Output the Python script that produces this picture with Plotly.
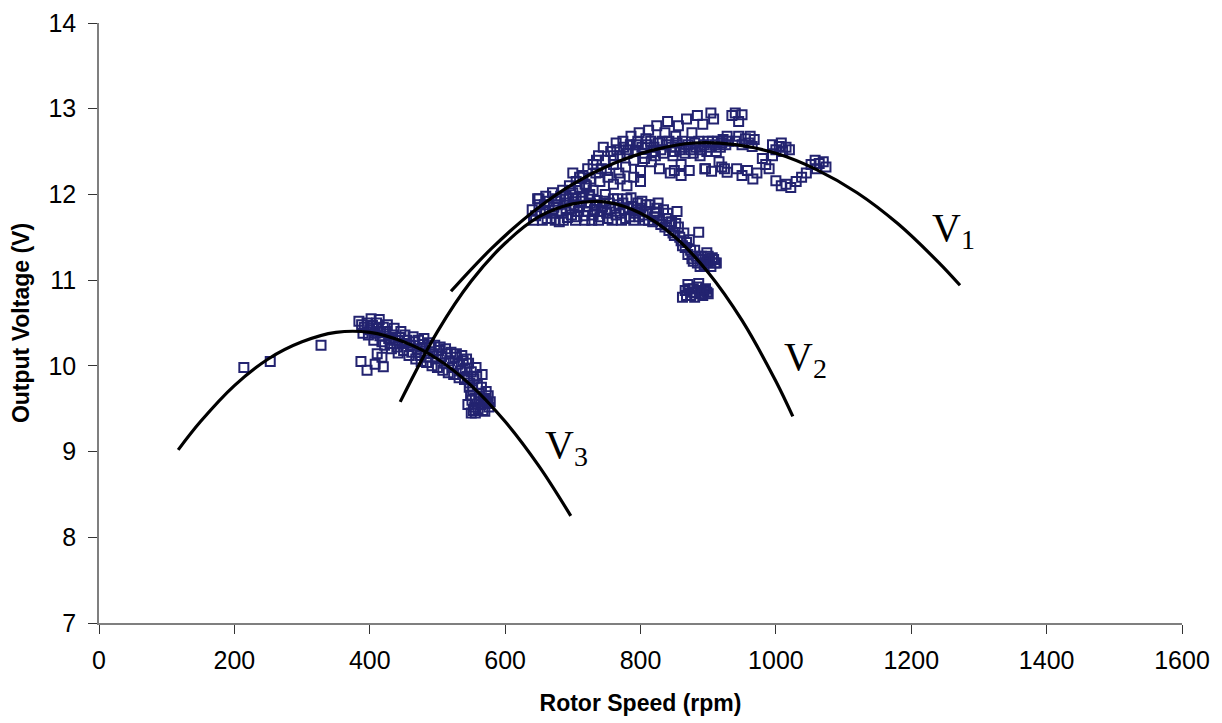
import plotly.graph_objects as go

# ---------------- data (rpm, V) ----------------
# Measured points, low-speed cluster
speed_low = [214, 253, 328, 387, 396, 411, 418, 420, 408,
             388, 392, 396, 400, 404, 408, 410, 412, 415, 418, 420, 424, 428, 430, 434, 438,
             440, 444, 448, 450, 455, 460, 462, 466, 470, 474, 478, 482, 486, 490, 494, 498,
             502, 506, 510, 514, 518, 522, 526, 530, 534, 538, 541, 544, 546, 548, 550, 552,
             554, 556, 557, 559, 560, 562, 564, 566, 568, 570, 572, 574, 576, 553, 545, 549,
             384, 390, 398, 402, 406, 414, 416, 422, 426, 432, 436, 442, 446, 452, 458, 464,
             468, 472, 476, 480, 484, 488, 492, 496, 500, 504, 508, 512, 516, 520, 524, 528,
             532, 536, 540, 543, 547, 551, 555, 558, 561, 565, 567, 571, 575, 578, 550, 556]
volt_low = [9.98, 10.05, 10.24, 10.05, 9.95, 10.14, 10.10, 9.99, 10.02,
            10.48, 10.45, 10.50, 10.42, 10.47, 10.38, 10.50, 10.44, 10.35, 10.28, 10.45, 10.40, 10.32, 10.26, 10.36, 10.30,
            10.22, 10.33, 10.26, 10.18, 10.30, 10.24, 10.16, 10.28, 10.20, 10.12, 10.25, 10.17, 10.10, 10.22, 10.14, 10.08,
            10.18, 10.11, 10.03, 10.14, 10.06, 9.98, 10.10, 10.02, 9.94, 10.06, 9.97, 9.88, 10.03, 9.80, 9.93, 9.72,
            9.85, 9.62, 9.98, 9.78, 9.50, 9.68, 9.55, 9.90, 9.60, 9.47, 9.70, 9.56, 9.52, 9.48, 9.55, 9.66,
            10.52, 10.38, 10.36, 10.55, 10.30, 10.54, 10.40, 10.24, 10.48, 10.20, 10.44, 10.15, 10.40, 10.36, 10.12, 10.34,
            10.08, 10.30, 10.05, 10.32, 10.04, 10.27, 10.00, 10.24, 9.98, 10.22, 9.95, 10.20, 9.92, 10.16, 9.90, 10.14,
            9.86, 10.12, 9.84, 10.08, 9.75, 9.60, 9.52, 9.88, 9.58, 9.75, 9.48, 9.62, 9.65, 9.58, 9.45, 9.45]

# Measured points, middle cluster
speed_mid = [640, 645, 650, 655, 660, 665, 668, 672, 676, 680, 684, 688, 692, 696, 700, 704, 708, 712,
             716, 720, 724, 728, 732, 736, 740, 744, 748, 752, 756, 760, 764, 768, 772, 776, 780, 784,
             788, 792, 796, 800, 804, 808, 812, 818, 822, 826, 830, 834, 838, 842, 846, 850, 854, 856,
             860, 864, 866, 870, 872, 876, 880, 884, 886, 890, 894, 898, 902, 906, 910,
             862, 866, 870, 874, 878, 882, 886, 890, 894, 898,
             642, 648, 652, 658, 662, 670, 674, 678, 682, 686, 690, 694, 698, 702, 706, 710, 714, 718,
             722, 726, 730, 734, 738, 742, 746, 750, 754, 758, 762, 766, 770, 774, 778, 782, 786, 790,
             794, 798, 802, 806, 810, 814, 820, 824, 828, 836, 840, 844, 848, 852, 858, 862, 868, 874,
             878, 882, 888, 892, 896, 900, 904, 908, 912, 868, 872, 876, 880, 884, 888, 892, 896, 900]
volt_mid = [11.82, 11.75, 11.88, 11.70, 11.80, 11.92, 11.72, 11.85, 11.95, 11.68, 11.78, 11.90, 11.73, 11.84, 11.96, 11.70, 11.80, 11.92,
            11.75, 11.86, 11.98, 11.70, 11.82, 11.93, 11.74, 11.86, 12.00, 11.72, 11.83, 11.95, 11.76, 11.88, 11.70, 11.82, 11.95, 11.74,
            11.86, 11.78, 11.90, 11.84, 11.76, 11.88, 11.70, 11.68, 11.78, 11.90, 11.65, 11.82, 11.72, 11.58, 11.68, 11.52, 11.80, 11.62,
            11.46, 11.55, 11.38, 11.30, 11.47, 11.25, 11.35, 11.20, 11.56, 11.28, 11.18, 11.32, 11.22, 11.26, 11.20,
            10.80, 10.88, 10.95, 10.82, 10.90, 10.85, 10.96, 10.84, 10.88, 10.86,
            11.70, 11.95, 11.78, 11.88, 11.72, 11.78, 11.70, 11.88, 11.98, 11.70, 11.82, 11.95, 11.76, 11.88, 11.74, 11.86, 11.96, 11.70,
            11.80, 11.90, 11.76, 11.88, 11.70, 11.80, 11.92, 11.78, 11.90, 11.70, 11.84, 11.95, 11.78, 11.90, 11.72, 11.84, 11.96, 11.70,
            11.82, 11.74, 11.92, 11.70, 11.80, 11.88, 11.74, 11.84, 11.70, 11.62, 11.78, 11.64, 11.55, 11.66, 11.50, 11.40, 11.44, 11.35,
            11.22, 11.28, 11.16, 11.24, 11.20, 11.28, 11.16, 11.24, 11.20, 10.82, 10.90, 10.86, 10.80, 10.92, 10.88, 10.82, 10.90, 10.84]

# Measured points, high-speed cluster
speed_high = [650, 660, 670, 675, 685, 690, 695, 700, 705, 710, 715, 718, 722, 726, 730, 734, 738, 742, 745, 748,
              752, 756, 760, 764, 768, 770, 774, 778, 782, 786, 790, 794, 798, 800, 804, 808, 812, 816, 820, 824,
              828, 832, 836, 840, 844, 848, 852, 856, 860, 864, 868, 872, 876, 880, 884, 888, 892, 896, 900, 904,
              908, 912, 916, 920, 924, 928, 935, 940, 945, 950,
              940, 945, 950, 955, 960, 965, 968, 962, 942, 950, 958, 966, 972,
              980, 985, 990, 995, 995, 1000, 1005, 1010, 1015, 1020, 1008,
              1000, 1008, 1015, 1022, 1030, 1038, 1045, 1052, 1058, 1064, 1070, 1074, 1060,
              850, 860, 895, 905, 920, 928,
              760, 765, 775, 780, 785, 792, 796, 802, 806, 810, 815, 818, 822, 826, 830, 834, 838, 842,
              846, 850, 854, 858, 862, 866, 870, 874, 878, 882, 886, 890, 894, 898, 902, 906, 910, 914,
              918, 922, 926, 930, 700, 710, 720, 730, 740, 750, 735, 725, 715, 705, 760, 770, 780, 790, 800]
volt_high = [11.95, 11.98, 12.02, 11.92, 12.05, 11.98, 12.10, 12.02, 12.15, 12.08, 12.22, 12.12, 12.30, 12.18, 12.35, 12.25, 12.45, 12.30, 12.55, 12.40,
             12.20, 12.50, 12.35, 12.60, 12.25, 12.45, 12.62, 12.32, 12.52, 12.68, 12.40, 12.58, 12.72, 12.28, 12.48, 12.65, 12.75, 12.38, 12.55, 12.80,
             12.30, 12.62, 12.72, 12.85, 12.25, 12.45, 12.68, 12.80, 12.35, 12.55, 12.88, 12.28, 12.72, 12.60, 12.92, 12.45, 12.82, 12.30, 12.62, 12.95,
             12.88, 12.50, 12.38, 12.60, 12.30, 12.68, 12.92, 12.95, 12.85, 12.93,
             12.62, 12.68, 12.58, 12.65, 12.60, 12.56, 12.64, 12.68, 12.30, 12.22, 12.28, 12.18, 12.25,
             12.42, 12.35, 12.30, 12.45, 12.58, 12.52, 12.56, 12.50, 12.55, 12.52, 12.60,
             12.16, 12.10, 12.12, 12.08, 12.15, 12.20, 12.25, 12.35, 12.40, 12.36, 12.38, 12.32, 12.30,
             12.28, 12.22, 12.30, 12.27, 12.32, 12.26,
             12.45, 12.52, 12.55, 12.48, 12.58, 12.50, 12.62, 12.55, 12.42, 12.58, 12.62, 12.50, 12.45, 12.60, 12.52, 12.48, 12.58, 12.62,
             12.55, 12.50, 12.60, 12.52, 12.62, 12.48, 12.58, 12.52, 12.48, 12.55, 12.62, 12.52, 12.58, 12.50, 12.55, 12.62, 12.58, 12.62,
             12.55, 12.64, 12.58, 12.62, 12.25, 12.20, 12.10, 12.05, 12.15, 12.28, 12.40, 12.00, 11.98, 11.95, 12.12, 12.18, 12.10, 12.20, 12.15]

# Fitted curves
v1_speed = [520, 580, 640, 700, 760, 820, 880, 940, 1000, 1060, 1120, 1180, 1240, 1272]
v1_volt = [10.87, 11.37, 11.79, 12.12, 12.36, 12.52, 12.60, 12.58, 12.48, 12.29, 12.02, 11.66, 11.21, 10.94]
v2_speed = [445, 500, 550, 600, 650, 700, 750, 800, 850, 900, 950, 1000, 1025]
v2_volt = [9.58, 10.40, 10.99, 11.43, 11.74, 11.89, 11.91, 11.78, 11.51, 11.09, 10.53, 9.82, 9.41]
v3_speed = [117, 150, 200, 250, 300, 350, 400, 450, 500, 550, 600, 650, 697]
v3_volt = [9.02, 9.35, 9.77, 10.08, 10.28, 10.39, 10.39, 10.28, 10.08, 9.77, 9.35, 8.83, 8.25]

curve_labels = ["V<sub>1</sub>", "V<sub>2</sub>", "V<sub>3</sub>"]
label_speed = [1228, 1009, 656]
label_volt = [11.58, 10.08, 9.05]

x_ticks = [0, 200, 400, 600, 800, 1000, 1200, 1400, 1600]
y_ticks = [7, 8, 9, 10, 11, 12, 13, 14]

# ---------------- figure ----------------
marker_color = "#232370"
fig = go.Figure()

for xs, ys in [(speed_low, volt_low), (speed_mid, volt_mid), (speed_high, volt_high)]:
    fig.add_trace(go.Scatter(
        x=xs, y=ys, mode="markers",
        marker=dict(symbol="square-open", size=9, color=marker_color,
                    line=dict(width=2, color=marker_color)),
        showlegend=False, hoverinfo="x+y"))

for xs, ys in [(v1_speed, v1_volt), (v2_speed, v2_volt), (v3_speed, v3_volt)]:
    fig.add_trace(go.Scatter(
        x=xs, y=ys, mode="lines",
        line=dict(color="black", width=3.2, shape="spline", smoothing=1.0),
        showlegend=False))

for txt, lx, ly in zip(curve_labels, label_speed, label_volt):
    fig.add_annotation(x=lx, y=ly, text=txt, showarrow=False,
                       xanchor="left", yanchor="middle",
                       font=dict(family="Liberation Serif, Times New Roman, serif",
                                 size=40, color="black"))

axis_font = dict(family="Liberation Sans, Arial, sans-serif", size=25, color="black")
title_font = dict(family="Liberation Sans, Arial, sans-serif", size=23, color="black")

fig.update_xaxes(
    range=[0, 1600], tickvals=x_ticks, ticktext=[str(v) for v in x_ticks],
    showgrid=False, zeroline=False, automargin=False,
    showline=True, linecolor="#7f7f7f", linewidth=1.5,
    ticks="outside", ticklen=9, tickwidth=1.2, tickcolor="#333333",
    tickfont=axis_font, ticklabelstandoff=5,
    title=dict(text="<b>Rotor Speed (rpm)</b>", font=title_font, standoff=22))
fig.update_yaxes(
    range=[7, 14], tickvals=y_ticks, ticktext=[str(v) for v in y_ticks],
    showgrid=False, zeroline=False, automargin=False,
    showline=True, linecolor="#7f7f7f", linewidth=1.5,
    ticks="outside", ticklen=9, tickwidth=1.2, tickcolor="#333333",
    tickfont=axis_font, ticklabelstandoff=7,
    title=dict(text="<b>Output Voltage (V)</b>", font=title_font, standoff=14))

# the page adds an 8 px body margin, so the figure is sized to compensate
fig.update_layout(
    width=1214, height=715, autosize=False,
    margin=dict(l=91, r=40, t=15, b=100, autoexpand=False),
    plot_bgcolor="white", paper_bgcolor="white",
    showlegend=False)

fig.write_html("out.html")
